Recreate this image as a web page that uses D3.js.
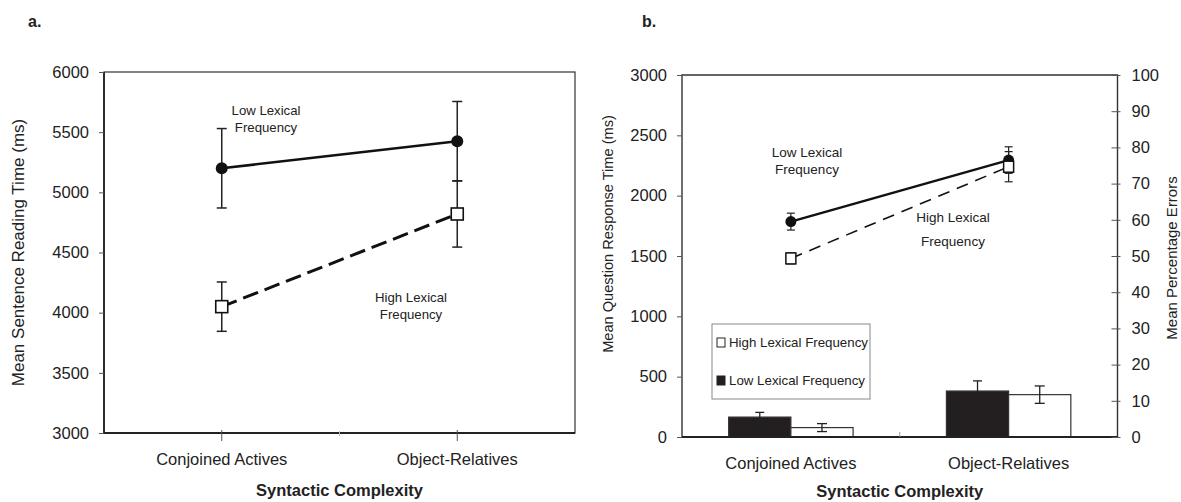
<!DOCTYPE html>
<html>
<head>
<meta charset="utf-8">
<script src="https://cdn.jsdelivr.net/npm/d3@7"></script>
<style>
  body { margin: 0; background: #fff; }
  svg { display: block; font-family: "Liberation Sans", Arial, sans-serif; }
  text { fill: #222; }
</style>
</head>
<body>
<svg id="chart" width="1181" height="502"></svg>
<script>
// data
var categories = ["Conjoined Actives", "Object-Relatives"];

// panel a: mean sentence reading time (ms)
var readingLow = [5200, 5425], readingLowErr = [330, 330];
var readingHigh = [4050, 4820], readingHighErr = [205, 275];
var readingTicks = [3000, 3500, 4000, 4500, 5000, 5500, 6000];

// panel b: mean question response time (ms), lines
var responseLow = [1785, 2295], responseLowErr = [70, 110];
var responseHigh = [1480, 2240], responseHighErr = [45, 125];
var responseTicks = [0, 500, 1000, 1500, 2000, 2500, 3000];

// panel b: mean percentage errors, bars
var errorsLow = [5.5, 12.7], errorsLowErr = [1.3, 2.8];
var errorsHigh = [2.6, 11.7], errorsHighErr = [1.1, 2.4];
var percentTicks = [0, 10, 20, 30, 40, 50, 60, 70, 80, 90, 100];

var ink = "#222";
var svg = d3.select("#chart");
var fmt = d3.format("d");

function errBars(g, xs, ys, errs, yScale, cap, width) {
  xs.forEach(function (x, i) {
    var y0 = yScale(ys[i] - errs[i]), y1 = yScale(ys[i] + errs[i]);
    g.append("line").attr("x1", x).attr("x2", x).attr("y1", y0).attr("y2", y1);
    g.append("line").attr("x1", x - cap / 2).attr("x2", x + cap / 2).attr("y1", y0).attr("y2", y0);
    g.append("line").attr("x1", x - cap / 2).attr("x2", x + cap / 2).attr("y1", y1).attr("y2", y1);
  });
  g.attr("stroke", ink).attr("stroke-width", width);
}

function styleAxis(g, size) {
  g.select(".domain").remove();
  g.selectAll("line").attr("stroke", "#555");
  g.selectAll("text").attr("font-size", size).attr("fill", ink);
  g.attr("font-family", null);
}

// ---------------- panel a ----------------
var A = { left: 104, right: 575, top: 72, bottom: 433 };

var xa = d3.scaleBand().domain(categories).range([A.left, A.right]);
var ya = d3.scaleLinear().domain([3000, 6000]).range([A.bottom, A.top]);
var cxa = function (c) { return xa(c) + xa.bandwidth() / 2; };

svg.append("text").attr("x", 28).attr("y", 27).attr("font-size", 16).attr("font-weight", "bold").text("a.");

svg.append("rect").attr("x", A.left).attr("y", A.top)
  .attr("width", A.right - A.left).attr("height", A.bottom - A.top)
  .attr("fill", "none").attr("stroke", "#333").attr("stroke-width", 1.2);
svg.append("line").attr("x1", A.left).attr("x2", A.left).attr("y1", A.top).attr("y2", A.bottom)
  .attr("stroke", "#222").attr("stroke-width", 1.8);
svg.append("line").attr("x1", A.left).attr("x2", A.right).attr("y1", A.bottom).attr("y2", A.bottom)
  .attr("stroke", "#222").attr("stroke-width", 1.8);

svg.append("g").attr("transform", "translate(" + A.left + ",0)")
  .call(d3.axisLeft(ya).tickValues(readingTicks).tickFormat(fmt).tickSize(5).tickPadding(10))
  .call(styleAxis, 16.5);

var axA = svg.append("g").attr("transform", "translate(0," + A.bottom + ")")
  .call(d3.axisBottom(xa).tickSize(8).tickPadding(24))
  .call(styleAxis, 16.5);
axA.selectAll(".tick line").attr("y1", -3);
axA.selectAll(".tick text").attr("y", 32).attr("dy", 0);
svg.append("line").attr("x1", A.left + xa.bandwidth()).attr("x2", A.left + xa.bandwidth())
  .attr("y1", A.bottom - 2).attr("y2", A.bottom + 3).attr("stroke", "#bbb");

svg.append("text").attr("transform", "translate(18," + (A.top + A.bottom) / 2 + ") rotate(-90)")
  .attr("text-anchor", "middle").attr("dy", "0.35em").attr("font-size", 17)
  .text("Mean Sentence Reading Time (ms)");
svg.append("text").attr("x", (A.left + A.right) / 2).attr("y", 496).attr("text-anchor", "middle")
  .attr("font-size", 16.5).attr("font-weight", "bold").text("Syntactic Complexity");

var xsA = categories.map(cxa);
errBars(svg.append("g"), xsA, readingLow, readingLowErr, ya, 10, 1.5);
errBars(svg.append("g"), xsA, readingHigh, readingHighErr, ya, 10, 1.5);

var lineA = d3.line().x(function (d, i) { return xsA[i]; }).y(function (d) { return ya(d); });
svg.append("path").attr("d", lineA(readingLow)).attr("fill", "none").attr("stroke", "#111").attr("stroke-width", 2.6);
svg.append("path").attr("d", lineA(readingHigh)).attr("fill", "none").attr("stroke", "#111")
  .attr("stroke-width", 3).attr("stroke-dasharray", "16,7");

svg.selectAll(".dotA").data(readingLow).enter().append("circle")
  .attr("cx", function (d, i) { return xsA[i]; }).attr("cy", function (d) { return ya(d); })
  .attr("r", 6).attr("fill", "#111");
svg.selectAll(".sqA").data(readingHigh).enter().append("rect")
  .attr("x", function (d, i) { return xsA[i] - 6; }).attr("y", function (d) { return ya(d) - 6; })
  .attr("width", 12).attr("height", 12).attr("fill", "#fff").attr("stroke", "#111").attr("stroke-width", 1.6);

svg.append("text").attr("text-anchor", "middle").attr("font-size", 13.2)
  .selectAll("tspan").data(["Low Lexical", "Frequency"]).enter().append("tspan")
  .attr("x", 266).attr("y", function (d, i) { return 115 + i * 17; }).text(function (d) { return d; });
svg.append("text").attr("text-anchor", "middle").attr("font-size", 13.2)
  .selectAll("tspan").data(["High Lexical", "Frequency"]).enter().append("tspan")
  .attr("x", 411).attr("y", function (d, i) { return 302 + i * 17; }).text(function (d) { return d; });

// ---------------- panel b ----------------
var B = { left: 682, right: 1117.5, top: 75, bottom: 437 };

var xb = d3.scaleBand().domain(categories).range([B.left, B.right]);
var xb1 = d3.scaleBand().domain(["low", "high"]).range([0, xb.bandwidth()]).paddingInner(0).paddingOuter(0.75);
var yb = d3.scaleLinear().domain([0, 3000]).range([B.bottom, B.top]);
var yp = d3.scaleLinear().domain([0, 100]).range([B.bottom, B.top]);
var cxb = function (c) { return xb(c) + xb.bandwidth() / 2; };

svg.append("text").attr("x", 642).attr("y", 27).attr("font-size", 16).attr("font-weight", "bold").text("b.");

// bars
var barData = [];
categories.forEach(function (c, i) {
  barData.push({ cat: c, key: "low", v: errorsLow[i], e: errorsLowErr[i] });
  barData.push({ cat: c, key: "high", v: errorsHigh[i], e: errorsHighErr[i] });
});
svg.selectAll(".bar").data(barData).enter().append("rect")
  .attr("x", function (d) { return xb(d.cat) + xb1(d.key); })
  .attr("y", function (d) { return yp(d.v); })
  .attr("width", xb1.bandwidth())
  .attr("height", function (d) { return yp(0) - yp(d.v); })
  .attr("fill", function (d) { return d.key == "low" ? "#231f20" : "#fff"; })
  .attr("stroke", "#333").attr("stroke-width", 1.2);

var barX = function (key) { return categories.map(function (c) { return xb(c) + xb1(key) + xb1.bandwidth() / 2; }); };
errBars(svg.append("g"), barX("low"), errorsLow, errorsLowErr, yp, 9, 1.3);
errBars(svg.append("g"), barX("high"), errorsHigh, errorsHighErr, yp, 10, 1.3);

// frame
svg.append("path")
  .attr("d", "M" + B.left + "," + B.bottom + "V" + B.top + "H" + B.right + "V" + B.bottom)
  .attr("fill", "none").attr("stroke", "#333").attr("stroke-width", 1.4);
svg.append("line").attr("x1", B.left).attr("x2", B.right).attr("y1", B.bottom).attr("y2", B.bottom)
  .attr("stroke", "#222").attr("stroke-width", 2.2);
svg.append("line").attr("x1", B.left + xb.bandwidth()).attr("x2", B.left + xb.bandwidth())
  .attr("y1", B.bottom - 5).attr("y2", B.bottom).attr("stroke", "#999");

svg.append("g").attr("transform", "translate(" + B.left + ",0)")
  .call(d3.axisLeft(yb).tickValues(responseTicks).tickFormat(fmt).tickSize(5).tickPadding(10))
  .call(styleAxis, 16.5);
var axR = svg.append("g").attr("transform", "translate(" + B.right + ",0)")
  .call(d3.axisRight(yp).tickValues(percentTicks).tickFormat(fmt).tickSize(3).tickPadding(11))
  .call(styleAxis, 16.5);
axR.selectAll(".tick line").attr("x1", -6);

var axB = svg.append("g").attr("transform", "translate(0," + B.bottom + ")")
  .call(d3.axisBottom(xb).tickSize(0))
  .call(styleAxis, 16.5);
axB.selectAll(".tick text").attr("y", 32).attr("dy", 0);

svg.append("text").attr("transform", "translate(608,234) rotate(-90)")
  .attr("text-anchor", "middle").attr("dy", "0.35em").attr("font-size", 14.6)
  .text("Mean Question Response Time (ms)");
svg.append("text").attr("transform", "translate(1172,258) rotate(-90)")
  .attr("text-anchor", "middle").attr("dy", "0.35em").attr("font-size", 15)
  .text("Mean Percentage Errors");
svg.append("text").attr("x", (B.left + B.right) / 2).attr("y", 497).attr("text-anchor", "middle")
  .attr("font-size", 16.5).attr("font-weight", "bold").text("Syntactic Complexity");

// lines
var xsB = categories.map(cxb);
errBars(svg.append("g"), xsB, responseLow, responseLowErr, yb, 8, 1.2);
errBars(svg.append("g"), xsB, responseHigh, responseHighErr, yb, 8, 1.2);

var lineB = d3.line().x(function (d, i) { return xsB[i]; }).y(function (d) { return yb(d); });
svg.append("path").attr("d", lineB(responseLow)).attr("fill", "none").attr("stroke", "#111").attr("stroke-width", 2.4);
svg.append("path").attr("d", lineB(responseHigh)).attr("fill", "none").attr("stroke", "#111")
  .attr("stroke-width", 1.6).attr("stroke-dasharray", "12,8");

svg.selectAll(".dotB").data(responseLow).enter().append("circle")
  .attr("cx", function (d, i) { return xsB[i]; }).attr("cy", function (d) { return yb(d); })
  .attr("r", 5.5).attr("fill", "#111");
svg.selectAll(".sqB").data(responseHigh).enter().append("rect")
  .attr("x", function (d, i) { return xsB[i] - 5; }).attr("y", function (d) { return yb(d) - 5.5; })
  .attr("width", 10).attr("height", 11).attr("fill", "#fff").attr("stroke", "#111").attr("stroke-width", 1.5);

svg.append("text").attr("text-anchor", "middle").attr("font-size", 13.5)
  .selectAll("tspan").data(["Low Lexical", "Frequency"]).enter().append("tspan")
  .attr("x", 807).attr("y", function (d, i) { return 157 + i * 17; }).text(function (d) { return d; });
svg.append("text").attr("text-anchor", "middle").attr("font-size", 13.5)
  .selectAll("tspan").data(["High Lexical", "Frequency"]).enter().append("tspan")
  .attr("x", 953).attr("y", function (d, i) { return 222 + i * 24; }).text(function (d) { return d; });

// legend
var leg = svg.append("g").attr("transform", "translate(712,324)");
leg.append("rect").attr("width", 158).attr("height", 75).attr("fill", "#fff").attr("stroke", "#888");
var legItems = [{ label: "High Lexical Frequency", fill: "#fff" }, { label: "Low Lexical Frequency", fill: "#231f20" }];
var li = leg.selectAll(".li").data(legItems).enter().append("g")
  .attr("transform", function (d, i) { return "translate(5," + (14 + i * 38) + ")"; });
li.append("rect").attr("width", 8).attr("height", 9).attr("fill", function (d) { return d.fill; })
  .attr("stroke", "#222").attr("stroke-width", 1);
li.append("text").attr("x", 12).attr("y", 8.5).attr("font-size", 13.3).text(function (d) { return d.label; });
</script>
</body>
</html>
